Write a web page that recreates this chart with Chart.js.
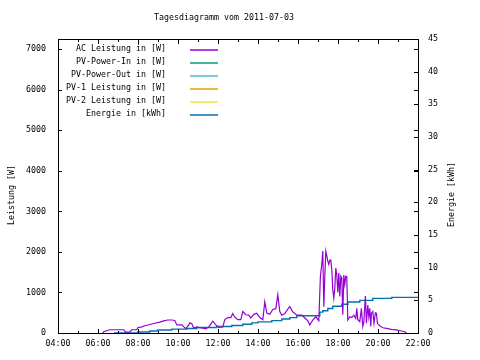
<!DOCTYPE html>
<html lang="de">
<head>
  <meta charset="UTF-8">
  <title>Tagesdiagramm vom 2011-07-03</title>
  <script src="https://cdn.jsdelivr.net/npm/chart.js"></script>
  <style>
    body {
      margin: 0;
      background: #fff;
    }
    canvas {
      display: block;
    }
  </style>
</head>
<body>
  <canvas id="chart" width="480" height="360"></canvas>

  <script>
    // Zeitachse in Stunden (4 = 04:00, 22 = 22:00)
    const acTime = [
      6.24, 6.28, 6.59, 7.29, 7.38, 7.59, 7.69, 7.94, 7.99, 8.19,
      8.34, 8.59, 8.84, 9.09, 9.29, 9.49, 9.69, 9.84, 9.94, 10.19,
      10.29, 10.39, 10.54, 10.59, 10.69, 10.79, 10.94, 11.09, 11.24, 11.39,
      11.54, 11.74, 11.89, 12.04, 12.24, 12.34, 12.49, 12.64, 12.74, 12.84,
      12.99, 13.14, 13.24, 13.39, 13.54, 13.64, 13.79, 13.94, 14.09, 14.24,
      14.34, 14.44, 14.59, 14.74, 14.89, 14.99, 15.09, 15.19, 15.34, 15.49,
      15.59, 15.74, 15.94, 16.19, 16.34, 16.49, 16.59, 16.74, 16.89, 17.04,
      17.12, 17.19, 17.24, 17.29, 17.34, 17.39, 17.44, 17.49, 17.54, 17.59,
      17.64, 17.69, 17.74, 17.79, 17.84, 17.89, 17.94, 17.99, 18.04, 18.09,
      18.14, 18.19, 18.24, 18.29, 18.34, 18.39, 18.44, 18.49, 18.59, 18.69,
      18.79, 18.89, 18.94, 18.99, 19.09, 19.17, 19.24, 19.29, 19.37, 19.42,
      19.49, 19.54, 19.59, 19.64, 19.67, 19.74, 19.80, 19.87, 19.92, 19.97,
      20.04, 20.14, 20.25, 20.42, 20.67, 20.92, 21.17, 21.34, 21.42
    ];
    const acPower = [
      0, 30, 80, 80, 20, 20, 80, 80, 130, 150,
      180, 210, 240, 270, 300, 320, 320, 310, 200, 200,
      150, 110, 200, 250, 230, 120, 150, 130, 120, 100,
      150, 290, 200, 140, 150, 330, 380, 380, 480, 390,
      330, 330, 530, 450, 440, 370, 460, 490, 380, 330,
      770, 490, 460, 580, 600, 940, 530, 440, 480, 590,
      650, 520, 440, 440, 370, 300, 200, 320, 400, 300,
      1400, 1700, 2020, 650, 1400, 2020, 1900, 1770, 1690, 1800,
      1800, 1560, 1060, 860, 1100, 1600, 1430, 1000, 1480, 900,
      1400, 1350, 450, 1430, 1200, 1400, 1390, 320, 400, 380,
      440, 360, 610, 330, 280, 610, 160, 270, 910, 240,
      690, 400, 610, 160, 490, 530, 240, 500, 490, 240,
      200, 160, 130, 115, 90, 75, 50, 30, 0
    ];

    const energyTime = [
      6.8, 7.99, 8.59, 8.99, 9.69, 10.44, 10.94, 11.94, 12.69, 13.24,
      13.69, 13.99, 14.69, 15.19, 15.59, 15.94, 17.09, 17.24, 17.49, 17.74,
      18.19, 18.49, 19.09, 19.74, 20.69, 22
    ];
    const energyValue = [
      0, 0.15, 0.3, 0.45, 0.6, 0.7, 0.85, 1.0, 1.15, 1.35,
      1.55, 1.7, 1.9, 2.15, 2.35, 2.65, 3.2, 3.4, 3.75, 4.1,
      4.4, 4.75, 5.0, 5.3, 5.45, 5.45
    ];

    const powerTicks = [0, 1000, 2000, 3000, 4000, 5000, 6000, 7000];

    const seriesLabels = [
      'AC Leistung in [W]', 'PV-Power-In in [W]', 'PV-Power-Out in [W]',
      'PV-1 Leistung in [W]', 'PV-2 Leistung in [W]', 'Energie in [kWh]'
    ];
    const seriesColors = ['#9400d3', '#009e73', '#56b4e9', '#e69f00', '#f0e442', '#0072b2'];

    const titleText = 'Tagesdiagramm vom 2011-07-03';
    const leftTitle = 'Leistung [W]';
    const rightTitle = 'Energie [kWh]';
    const FONT = 'DejaVu Sans Mono';

    function pairs(xs, ys) {
      return xs.map((x, i) => ({ x: x, y: ys[i] }));
    }

    const datasets = seriesLabels.map((label, i) => ({
      label: label,
      data: [],
      borderColor: seriesColors[i],
      borderWidth: 1.2,
      pointRadius: 0,
      tension: 0,
      fill: false,
      yAxisID: 'y'
    }));
    datasets[0].data = pairs(acTime, acPower);
    datasets[5].data = pairs(energyTime, energyValue);
    datasets[5].yAxisID = 'y2';
    datasets[5].stepped = true;
    datasets[5].borderWidth = 1.4;

    // Rahmen, Ticks nach innen, Legende und Achsentitel wie bei gnuplot
    const gnuplotLook = {
      id: 'gnuplotLook',
      afterDraw(chart) {
        const ctx = chart.ctx;
        const a = chart.chartArea;
        const s = chart.scales;
        ctx.save();
        ctx.strokeStyle = '#000';
        ctx.lineWidth = 1;
        ctx.strokeRect(a.left + 0.5, a.top + 0.5, a.right - a.left, a.bottom - a.top);

        ctx.beginPath();
        for (let h = 4; h <= 22; h++) {
          const x = Math.round(s.x.getPixelForValue(h)) + 0.5;
          const len = h % 2 === 0 ? 4 : 2;
          ctx.moveTo(x, a.bottom); ctx.lineTo(x, a.bottom - len);
          ctx.moveTo(x, a.top + 1); ctx.lineTo(x, a.top + 1 + len);
        }
        s.y.ticks.forEach(t => {
          const y = Math.round(s.y.getPixelForValue(t.value)) + 0.5;
          ctx.moveTo(a.left, y); ctx.lineTo(a.left + 4, y);
          ctx.moveTo(a.right, y); ctx.lineTo(a.right - 4, y);
        });
        s.y2.ticks.forEach(t => {
          const y = Math.round(s.y2.getPixelForValue(t.value)) + 0.5;
          ctx.moveTo(a.right, y); ctx.lineTo(a.right - 4, y);
        });
        ctx.stroke();

        ctx.fillStyle = '#000';
        ctx.font = '8.3px "' + FONT + '"';
        ctx.textBaseline = 'middle';
        ctx.textAlign = 'center';
        ctx.fillText(titleText, 224, 18);

        // Legende
        chart.data.datasets.forEach((ds, i) => {
          const y = 48.5 + 13 * i;
          ctx.textAlign = 'right';
          ctx.fillStyle = '#000';
          ctx.fillText(ds.label, 166, y);
          ctx.beginPath();
          ctx.strokeStyle = ds.borderColor;
          ctx.lineWidth = 1.5;
          ctx.moveTo(190, Math.round(y) + 1);
          ctx.lineTo(218, Math.round(y) + 1);
          ctx.stroke();
        });

        ctx.fillStyle = '#000';
        ctx.textAlign = 'center';
        ctx.save();
        ctx.translate(11.5, 195);
        ctx.rotate(-Math.PI / 2);
        ctx.fillText(leftTitle, 0, 0);
        ctx.restore();
        ctx.save();
        ctx.translate(451.5, 194.5);
        ctx.rotate(-Math.PI / 2);
        ctx.fillText(rightTitle, 0, 0);
        ctx.restore();
        ctx.restore();
      }
    };

    const tickFont = { family: FONT, size: 8.3 };
    const noGrid = { display: false, drawTicks: false };

    const chart = new Chart(document.getElementById('chart'), {
      type: 'line',
      data: { datasets: datasets },
      options: {
        responsive: false,
        animation: false,
        devicePixelRatio: 1,
        layout: { padding: { top: 39, left: 0, right: 0, bottom: 0 } },
        plugins: {
          legend: { display: false },
          tooltip: { enabled: false },
          title: { display: false }
        },
        scales: {
          x: {
            type: 'linear',
            min: 4,
            max: 22,
            grid: noGrid,
            border: { display: false },
            afterFit: sc => { sc.height = 27; },
            ticks: {
              stepSize: 2,
              autoSkip: false,
              maxRotation: 0,
              padding: 6,
              color: '#000',
              font: tickFont,
              callback: v => String(v).padStart(2, '0') + ':00'
            }
          },
          y: {
            position: 'left',
            min: 0,
            max: 7250,
            grid: noGrid,
            border: { display: false },
            afterFit: sc => { sc.width = 58; },
            afterBuildTicks: sc => { sc.ticks = powerTicks.map(v => ({ value: v })); },
            ticks: {
              padding: 12,
              color: '#000',
              font: tickFont,
              callback: v => String(v)
            }
          },
          y2: {
            position: 'right',
            min: 0,
            max: 45,
            grid: noGrid,
            border: { display: false },
            afterFit: sc => { sc.width = 62; },
            ticks: {
              stepSize: 5,
              padding: 10,
              color: '#000',
              font: tickFont,
              callback: v => String(v)
            }
          }
        }
      },
      plugins: [gnuplotLook]
    });
  </script>
</body>
</html>
